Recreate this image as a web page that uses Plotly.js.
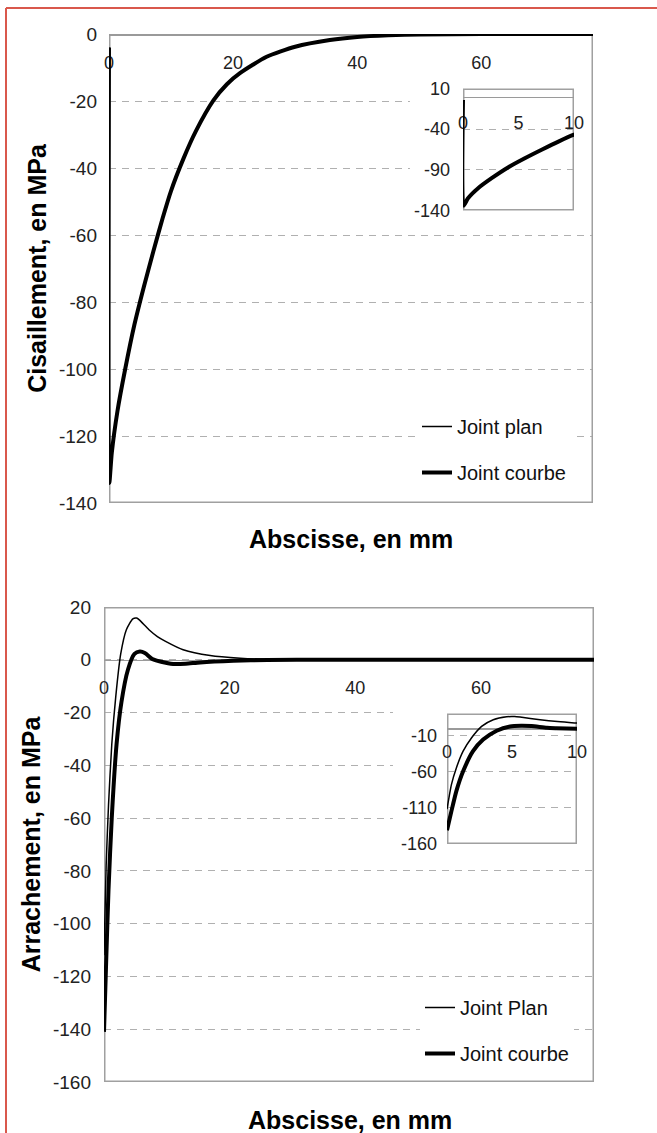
<!DOCTYPE html>
<html><head><meta charset="utf-8">
<script src="https://cdn.plot.ly/plotly-3.0.1.min.js"></script>
<style>html,body{margin:0;padding:0;background:#fff}</style>
</head><body>
<div id="chart" style="width:657px;height:1133px"></div>
<script>
// ---- Data: Cisaillement (shear stress), MPa vs abscissa, mm ----
const shearX      = [0, 0.05, 0.45, 1.36, 2.58, 4.09, 5.61, 7.13, 8.64, 10, 12, 14, 16.8, 19, 21.1, 25.4, 30, 35.6, 40, 45, 50, 60, 78];
const shearPlan   = [-4, -134, -125, -112.6, -100.3, -86.8, -75.5, -65, -55, -46.8, -37.2, -29, -19.9, -15, -11.7, -6.8, -3.8, -1.8, -0.9, -0.4, -0.15, 0, 0];
const shearCourbe = [-4, -134, -125, -112.6, -100.3, -86.8, -75.5, -65, -55, -46.8, -37.2, -29, -19.9, -15, -11.7, -6.8, -3.8, -1.8, -0.9, -0.4, -0.15, 0, 0];

// ---- Data: Arrachement (peel stress), MPa vs abscissa, mm ----
const peelPlanX   = [0, 0.34, 0.72, 1.24, 1.88, 2.66, 3.56, 4.59, 5.2, 5.62, 7.16, 8.5, 9.8, 12.6, 16.9, 21.7, 26, 30, 40, 50, 60, 78];
const peelPlan    = [-112, -78, -55, -32, -13.8, 2.2, 11.4, 15.5, 15.8, 15.1, 11.4, 8.8, 7, 3.8, 1.6, 0.6, 0.2, 0.1, 0, 0, 0, 0];
const peelCourbeX = [0, 0.34, 0.72, 1.24, 2.0, 2.78, 3.82, 4.85, 5.7, 6.5, 7.68, 8.4, 10, 11, 13, 15.3, 20.6, 26, 35, 50, 78];
const peelCourbe  = [-141, -114.7, -87, -59.7, -32, -16, -3.7, 2.2, 3.1, 2.6, 0.3, -0.3, -1.2, -1.6, -1.5, -1.0, -0.4, -0.1, 0, 0, 0];

// ---- Ticks and labels ----
const mainXTicks       = [0, 20, 40, 60];
const insetXTicks      = [0, 5, 10];
const shearYTicks      = [0, -20, -40, -60, -80, -100, -120, -140];
const shearInsetYTicks = [10, -40, -90, -140];
const peelYTicks       = [20, 0, -20, -40, -60, -80, -100, -120, -140, -160];
const peelInsetYTicks  = [-10, -60, -110, -160];
const shearNames = ['Joint plan', 'Joint courbe'];
const peelNames  = ['Joint Plan', 'Joint courbe'];
const shearYTitle = 'Cisaillement, en MPa';
const peelYTitle  = 'Arrachement, en MPa';
const xTitle = 'Abscisse, en mm';

// ---- Layout geometry (pixels) ----
const W = 657, H = 1133;
const fx = p => p / W, fy = p => 1 - p / H;
const B = {
  shear:   {l:109, r:593, t:34,    b:503},
  shearIn: {l:463, r:574, t:88.5,  b:210.5},
  peel:    {l:104, r:594, t:607,   b:1082},
  peelIn:  {l:447, r:577, t:713.5, b:844}
};
const R = {
  shearX:[0,78], shearY:[-140,0], shearInX:[0,10], shearInY:[-140,10],
  peelX:[0,78], peelY:[-160,20], peelInX:[0,10], peelInY:[-160,20]
};
function zeroPos(box, range){
  const y0 = fy(box.b), y1 = fy(box.t);
  return y0 + (0 - range[0]) / (range[1] - range[0]) * (y1 - y0);
}
const FONT = 'Liberation Sans, Arial, sans-serif';
const GRID = '#b0b0b0', FRAME = '#a0a0a0';
const label = v => String(v);

function xAx(box, range, yrange, ticks, standoff){
  return {domain:[fx(box.l), fx(box.r)], range:range, tickvals:ticks, ticktext:ticks.map(label), anchor:'free',
    position: zeroPos(box, yrange), showline:true, linecolor:'#9a9a9a', linewidth:1.5,
    layer:'below traces', showgrid:false, zeroline:false, ticks:'', ticklabelstandoff:standoff,
    tickfont:{size:18, color:'#222'}, fixedrange:true};
}
function yAx(box, range, ticks, anchor, standoff, size, title){
  const a = {domain:[fy(box.b), fy(box.t)], range:range, tickvals:ticks, ticktext:ticks.map(label), anchor:anchor,
    showline:false, zeroline:false, showgrid:true, gridcolor:GRID, gridwidth:1, griddash:'7px,6px',
    ticks:'', ticklabelstandoff:standoff, tickfont:{size:size, color:'#222'}, fixedrange:true};
  if(title) a.title = {text:title, font:{size:25, color:'#000', weight:700, family:FONT}, standoff:5};
  return a;
}

const thin = {color:'#000', width:1.5, shape:'spline', smoothing:0.6};
const thick = {color:'#000', width:4, shape:'spline', smoothing:0.6};

const traces = [
  {x:shearX, y:shearPlan, xaxis:'x', yaxis:'y', mode:'lines', name:shearNames[0], line:thin, legend:'legend', legendgroup:'s1'},
  {x:shearX, y:shearCourbe, xaxis:'x', yaxis:'y', mode:'lines', name:shearNames[1], line:thick, legend:'legend', legendgroup:'s2'},
  {x:shearX, y:shearPlan, xaxis:'x2', yaxis:'y2', mode:'lines', line:thin, showlegend:false},
  {x:shearX, y:shearCourbe, xaxis:'x2', yaxis:'y2', mode:'lines', line:thick, showlegend:false},
  {x:peelPlanX, y:peelPlan, xaxis:'x3', yaxis:'y3', mode:'lines', name:peelNames[0], line:thin, legend:'legend2', legendgroup:'p1'},
  {x:peelCourbeX, y:peelCourbe, xaxis:'x3', yaxis:'y3', mode:'lines', name:peelNames[1], line:thick, legend:'legend2', legendgroup:'p2'},
  {x:peelPlanX, y:peelPlan, xaxis:'x4', yaxis:'y4', mode:'lines', line:thin, showlegend:false},
  {x:peelCourbeX, y:peelCourbe, xaxis:'x4', yaxis:'y4', mode:'lines', line:thick, showlegend:false}
];

function frame(xref, yref, xrg, yrg){
  return {type:'rect', xref:xref, yref:yref, x0:xrg[0], x1:xrg[1], y0:yrg[0], y1:yrg[1],
    line:{color:FRAME, width:3}, fillcolor:'rgba(0,0,0,0)', layer:'between'};
}
function blank(xref, yref, x0, x1, y0, y1){
  return {type:'rect', xref:xref, yref:yref, x0:x0, x1:x1, y0:y0, y1:y1,
    line:{width:0}, fillcolor:'#fff', layer:'between'};
}

const legendStyle = {xanchor:'left', yanchor:'top', bgcolor:'#fff', borderwidth:0,
  font:{size:20, color:'#111', family:FONT}, tracegroupgap:17, traceorder:'grouped', itemwidth:30};

const layout = {
  width:W, height:H, margin:{l:0, r:0, t:0, b:0},
  paper_bgcolor:'#fff', plot_bgcolor:'rgba(0,0,0,0)',
  font:{family:FONT, color:'#222'},
  xaxis:  xAx(B.shear,  R.shearX, R.shearY, mainXTicks, 12),
  yaxis:  yAx(B.shear,  R.shearY, shearYTicks, 'x', 11, 19, shearYTitle),
  xaxis2: xAx(B.shearIn, R.shearInX, R.shearInY, insetXTicks, 9),
  yaxis2: yAx(B.shearIn, R.shearInY, shearInsetYTicks, 'x2', 12, 18),
  xaxis3: xAx(B.peel,   R.peelX, R.peelY, mainXTicks, 11),
  yaxis3: yAx(B.peel,   R.peelY, peelYTicks, 'x3', 12, 19, peelYTitle),
  xaxis4: xAx(B.peelIn, R.peelInX, R.peelInY, insetXTicks, 7),
  yaxis4: yAx(B.peelIn, R.peelInY, peelInsetYTicks, 'x4', 9, 18),
  legend:  Object.assign({x:fx(417), y:fy(407)}, legendStyle),
  legend2: Object.assign({x:fx(420), y:fy(988)}, legendStyle),
  shapes: [
    blank('x', 'y', 48.5, 78, -56, -13),
    blank('x3', 'y3', 46, 78, -72, -13.3),
    frame('x', 'y', R.shearX, R.shearY),
    frame('x2', 'y2', R.shearInX, R.shearInY),
    frame('x3', 'y3', R.peelX, R.peelY),
    frame('x4', 'y4', R.peelInX, R.peelInY),
    {type:'line', xref:'paper', yref:'paper', x0:fx(6), x1:1, y0:fy(8), y1:fy(8), line:{color:'#d9584c', width:2}, layer:'above'},
    {type:'line', xref:'paper', yref:'paper', x0:fx(6), x1:fx(6), y0:fy(8), y1:0, line:{color:'#d9584c', width:2}, layer:'above'}
  ],
  annotations: [
    {text:xTitle, xref:'paper', yref:'paper', x:fx(351), y:fy(539), xanchor:'center', yanchor:'middle', showarrow:false, font:{size:25, color:'#000', weight:700, family:FONT}},
    {text:xTitle, xref:'paper', yref:'paper', x:fx(350), y:fy(1120), xanchor:'center', yanchor:'middle', showarrow:false, font:{size:25, color:'#000', weight:700, family:FONT}}
  ],
  showlegend:true
};
Plotly.newPlot('chart', traces, layout, {staticPlot:true, displayModeBar:false});
</script>
</body></html>
